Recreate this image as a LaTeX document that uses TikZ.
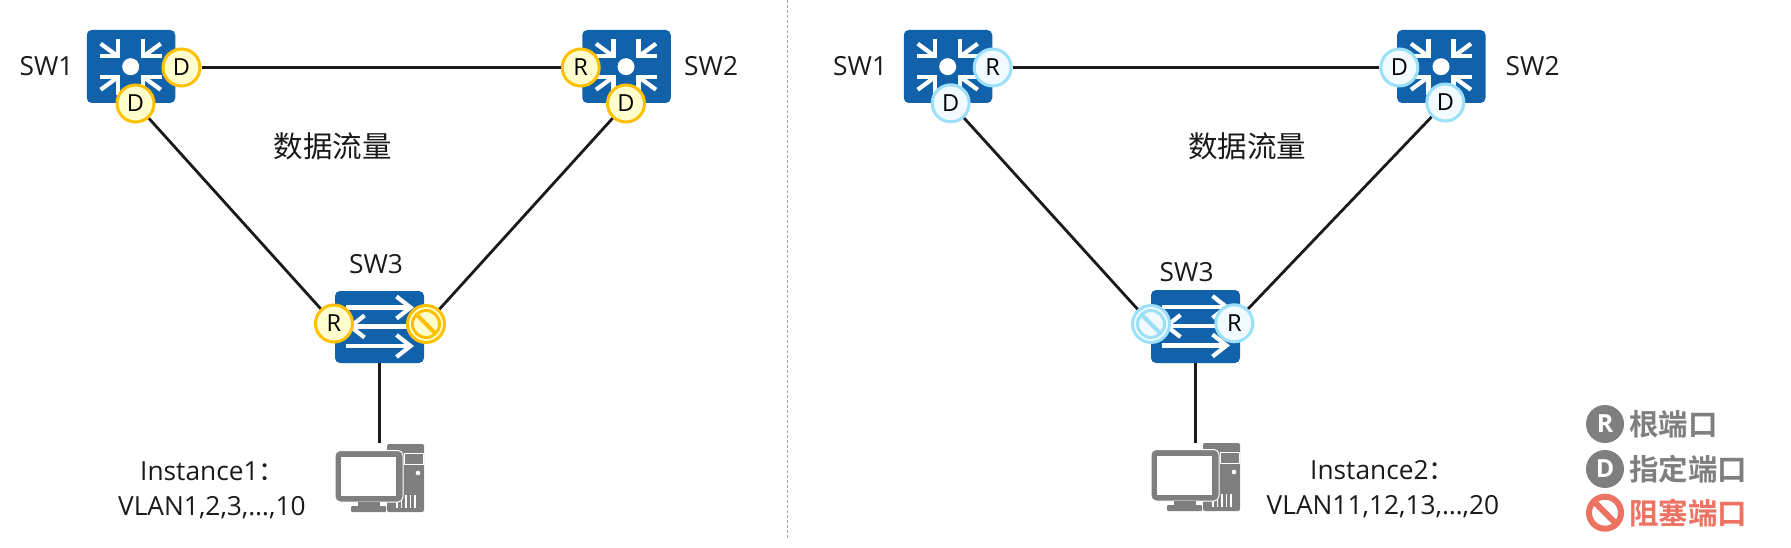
\documentclass[tikz,border=0pt]{standalone}
\usepackage{fontspec}
\setmainfont{Open Sans}
\newfontfamily\cjk{Noto Sans CJK SC}
\newfontfamily\cjkb{Noto Sans CJK SC Bold}
\usetikzlibrary{calc}
\definecolor{swblue}{HTML}{1262AB}
\definecolor{ink}{HTML}{1A1A1A}
\definecolor{yedge}{HTML}{FFC000}
\definecolor{yfill}{HTML}{FFFFCD}
\definecolor{bedge}{HTML}{9BDFF8}
\definecolor{bfill}{HTML}{F0FAFF}
\definecolor{pcgrey}{HTML}{7F7F7F}
\definecolor{blocked}{HTML}{EE7261}
\tikzset{
  link/.style={draw=ink,line width=2.8pt},
  lbl/.style={font=\fontsize{26.3}{30}\selectfont,text=ink,inner sep=0pt,anchor=base west},
  cn/.style={font=\cjk\fontsize{29.5}{30}\selectfont,text=ink,inner sep=0pt},
  swbox/.style={rectangle,fill=swblue,rounded corners=5pt,draw=none,inner sep=0pt,minimum width=88.5pt,minimum height=73pt},
  pcbox/.style={rectangle,inner sep=0pt,minimum width=89pt,minimum height=68pt},
  arr/.style={draw=white,line width=4.2pt},
  ydisc/.style={circle,draw=yedge,fill=yfill,line width=3pt,minimum size=37pt,inner sep=0pt,font=\fontsize{23.5}{24}\selectfont,text=black},
  bdisc/.style={circle,draw=bedge,fill=bfill,line width=3pt,minimum size=37pt,inner sep=0pt,font=\fontsize{23.5}{24}\selectfont,text=black},
  leg/.style={circle,fill=pcgrey,minimum size=38pt,inner sep=0pt,text=white,font=\bfseries\fontsize{25}{25}\selectfont},
  legt/.style={anchor=west,inner sep=0pt,font=\cjkb\fontsize{29.5}{30}\selectfont},
}
\newcommand{\corearrows}[2]{%
  \begin{scope}[shift={(#1,#2)}]
    \fill[white] (0,0) circle (8.5);
    \foreach \a/\b in {1/1,-1/1,1/-1,-1/-1}{
      \begin{scope}[xscale=\a,yscale=\b]
        \draw[arr] (30,23) -- (15,12);
        \draw[arr,line cap=butt] (12.5,28) -- (12.5,10.5) -- (31,10.5);
      \end{scope}}
  \end{scope}}
\newcommand{\flowarrows}[2]{%
  \begin{scope}[shift={(#1,#2)}]
    \draw[arr] (-33.5,-15.5) -- (31,-15.5);
    \draw[arr] (17,-26.5) -- (31,-15.5) -- (17,-4.5);
    \draw[arr] (33,3.5) -- (-29,3.5);
    \draw[arr] (-15,-7.5) -- (-29,3.5) -- (-15,14.5);
    \draw[arr] (-33.5,23) -- (31,23);
    \draw[arr] (17,12) -- (31,23) -- (17,34);
  \end{scope}}
\newcommand{\pcicon}[2]{%
  \begin{scope}[shift={(#1,#2)}]
    \fill[pcgrey,rounded corners=2pt] (52,0) rectangle (89,68);
    \draw[white,line width=1pt] (69,9) rectangle (88,20);
    \fill[white] (83,29) circle (2.3);
    \foreach \x in {62,66.5,71,75.5,80}{\draw[white,line width=1.2pt] (\x,51) -- (\x,64);}
    \fill[pcgrey,rounded corners=5pt,draw=white,line width=1pt] (0,6.5) rectangle (68,58);
    \fill[white] (6,13) rectangle (61,52);
    \fill[pcgrey] (23,58) rectangle (45,62);
    \fill[pcgrey,rounded corners=1pt] (16,62) rectangle (51,68);
  \end{scope}}
\newcommand{\noslash}[2]{%
  \draw[#2,line width=3pt] (#1) circle (13.5);
  \draw[#2,line width=4pt] ($(#1)+(-10,-10)$) -- ($(#1)+(10,10)$);}
\begin{document}
\begin{tikzpicture}[x=1pt,y=-1pt]
\useasboundingbox (0,0) rectangle (1791,548);
% left panel
\node[swbox] (ls1) at (131,66.5) {};
\corearrows{130.7}{66.7}
\node[swbox] (ls2) at (626.5,66.5) {};
\corearrows{626}{66.7}
\node[swbox,minimum width=89pt,minimum height=72pt] (ls3) at (379.5,327) {};
\flowarrows{379.5}{323}
\node[ydisc] (la) at (181.5,67.5) {D};
\node[ydisc] (lb) at (135.5,103.5) {D};
\node[ydisc] (lc) at (580.7,67.5) {R};
\node[ydisc] (ld) at (626,103.5) {D};
\node[ydisc] (le) at (334,323.5) {R};
\node[ydisc] (lf) at (426,324) {};
\noslash{lf}{yedge}
\node[pcbox] (lp) at (379.5,478) {};
\pcicon{335}{444}
\draw[link] (la) -- (lc);
\draw[link] (lb) -- (le);
\draw[link] (ld) -- (lf);
\draw[link] (ls3.south) -- ($(lp.north)+(0,-0.5)$);
\node[lbl] (t1) at (19.5,76) {SW1};
\node[lbl] (t2) at (684,76) {SW2};
\node[lbl] (t3) at (349,273.5) {SW3};
\node[cn] (t4) at (332.7,146) {数据流量};
\node[lbl] (t5) at (140,480) {Instance1{\cjk：}};
\node[lbl] (t6) at (118,515) {VLAN1,2,3,…,10};
% divider
\coordinate (d1) at (787,0);
\coordinate (d2) at (787,538);
\draw[gray!70,line width=0.8pt,dash pattern=on 3pt off 2pt] (d1) -- (d2);
% right panel
\node[swbox] (rs1) at (948,66.5) {};
\corearrows{947.7}{66.7}
\node[swbox] (rs2) at (1441.3,66.5) {};
\corearrows{1441}{66.7}
\node[swbox,minimum width=89pt,minimum height=73pt] (rs3) at (1195.5,326.5) {};
\flowarrows{1195.5}{322.5}
\node[bdisc] (ra) at (992.7,67.5) {R};
\node[bdisc] (rb) at (950.7,103.3) {D};
\node[bdisc] (rc) at (1399.3,67.5) {D};
\node[bdisc] (rd) at (1445.3,102.5) {D};
\node[bdisc] (re) at (1151,324) {};
\node[bdisc] (rf) at (1234.3,323.3) {R};
\noslash{re}{bedge}
\node[pcbox] (rp) at (1195.5,477) {};
\pcicon{1151}{443}
\draw[link] (ra) -- (rc);
\draw[link] (rb) -- (re);
\draw[link] (rd) -- (rf);
\draw[link] (rs3.south) -- (rp.north);
\node[lbl] (r1) at (833,76) {SW1};
\node[lbl] (r2) at (1505.5,76) {SW2};
\node[lbl] (r3) at (1159.5,281.7) {SW3};
\node[cn] (r4) at (1247,146) {数据流量};
\node[lbl] (r5) at (1310,479.5) {Instance2{\cjk：}};
\node[lbl] (r6) at (1266.5,514.5) {VLAN11,12,13,…,20};
% legend
\node[leg] (k1) at (1605,424) {R};
\node[leg] (k2) at (1605,469) {D};
\node[circle,draw=blocked,line width=6pt,minimum size=32pt,inner sep=0pt] (k3) at (1605,512.7) {};
\draw[blocked,line width=6pt] ($(k3)+(-11,-11)$) -- ($(k3)+(11,11)$);
\node[legt,text=pcgrey] (k4) at (1629,424) {根端口};
\node[legt,text=pcgrey] (k5) at (1629,469) {指定端口};
\node[legt,text=blocked] (k6) at (1629,513) {阻塞端口};
\end{tikzpicture}
\end{document}
